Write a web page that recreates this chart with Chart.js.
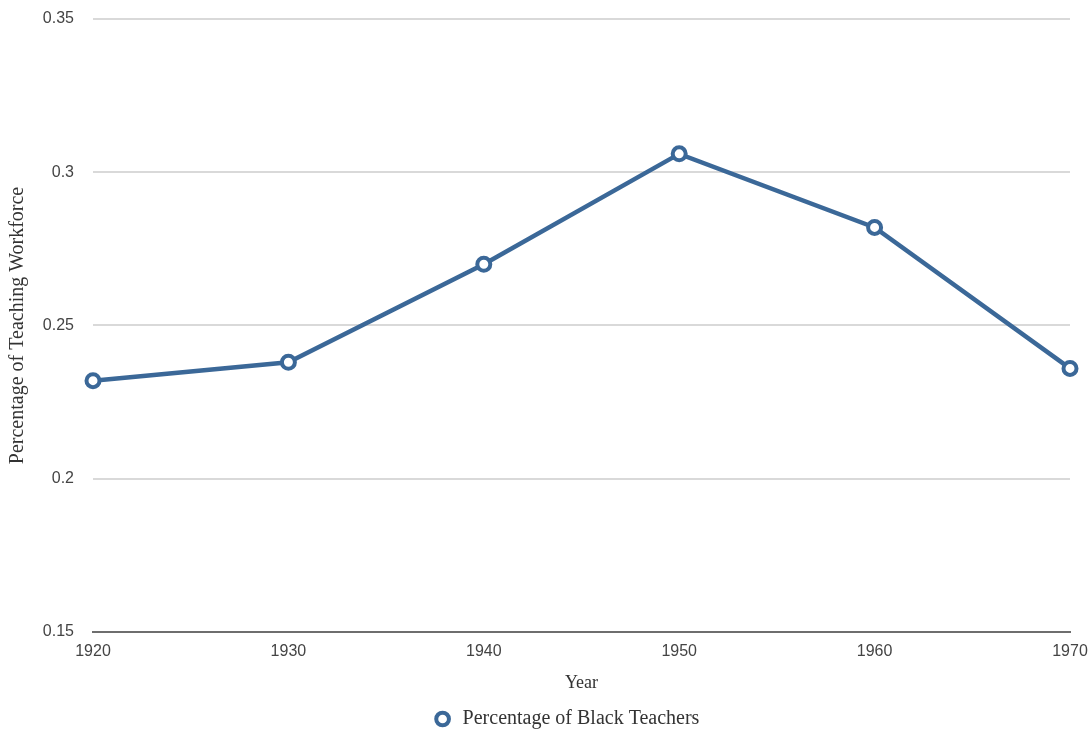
<!DOCTYPE html>
<html>
<head>
<meta charset="utf-8">
<script src="https://cdn.jsdelivr.net/npm/chart.js@4/dist/chart.umd.min.js"></script>
<style>
  body { margin: 0; background: #fff; }
  #wrap { width: 1091px; height: 730px; }
</style>
</head>
<body>
<div id="wrap"><canvas id="teachersChart" width="1091" height="730"></canvas></div>
<script>
// Data
const years = ['1920', '1930', '1940', '1950', '1960', '1970'];
const blackTeacherShare = [0.232, 0.238, 0.270, 0.306, 0.282, 0.236];
const yTicks = [0.15, 0.2, 0.25, 0.3, 0.35];

const lineColor = '#3b6898';

// small nudge so the legend sits where it does in the original
const legendNudge = {
    id: 'legendNudge',
    afterLayout(chart) {
        const lg = chart.legend;
        if (!lg) return;
        lg.left += 31; lg.right += 31;
        lg.top += 9; lg.bottom += 9;
    }
};

const ctx = document.getElementById('teachersChart').getContext('2d');
new Chart(ctx, {
    type: 'line',
    data: {
        labels: years,
        datasets: [{
            label: 'Percentage of Black Teachers',
            data: blackTeacherShare,
            borderColor: lineColor,
            backgroundColor: '#ffffff',
            borderWidth: 4.5,
            pointRadius: 6.5,
            pointBorderWidth: 4,
            pointBackgroundColor: '#ffffff',
            pointBorderColor: lineColor,
            tension: 0
        }]
    },
    plugins: [legendNudge],
    options: {
        responsive: false,
        animation: false,
        layout: {
            padding: { top: 19, right: 21, left: 0, bottom: 0 }
        },
        plugins: {
            legend: {
                position: 'bottom',
                labels: {
                    usePointStyle: true,
                    pointStyle: 'circle',
                    boxWidth: 20,
                    boxHeight: 9,
                    padding: 0,
                    color: '#333',
                    font: { family: '"Liberation Serif", serif', size: 20 }
                }
            },
            tooltip: { enabled: false }
        },
        scales: {
            x: {
                offset: false,
                afterFit: axis => {
                    axis.height = 68;
                },
                grid: { display: false, drawTicks: true, tickLength: 10, tickColor: 'rgba(0,0,0,0)' },
                border: { display: true, color: '#6e6e6e', width: 2 },
                ticks: {
                    color: '#444',
                    padding: 0,
                    maxRotation: 0,
                    font: { family: '"Liberation Sans", Arial, sans-serif', size: 16 }
                },
                title: {
                    display: true,
                    text: 'Year',
                    color: '#333',
                    padding: { top: 4, bottom: 6 },
                    font: { family: '"Liberation Serif", serif', size: 18 }
                }
            },
            y: {
                min: 0.15,
                max: 0.35,
                afterBuildTicks: axis => {
                    axis.ticks = yTicks.map(v => ({ value: v }));
                },
                afterFit: axis => {
                    axis.width = 93;
                },
                grid: { color: '#d9d9d9', lineWidth: 2, drawTicks: true, tickLength: 19, tickColor: 'rgba(0,0,0,0)' },
                border: { display: false },
                ticks: {
                    color: '#444',
                    padding: 0,
                    callback: v => String(v),
                    font: { family: '"Liberation Sans", Arial, sans-serif', size: 16 }
                },
                title: {
                    display: true,
                    text: 'Percentage of Teaching Workforce',
                    color: '#333',
                    padding: { top: 6, bottom: 4 },
                    font: { family: '"Liberation Serif", serif', size: 20 }
                }
            }
        }
    }
});
</script>
</body>
</html>
